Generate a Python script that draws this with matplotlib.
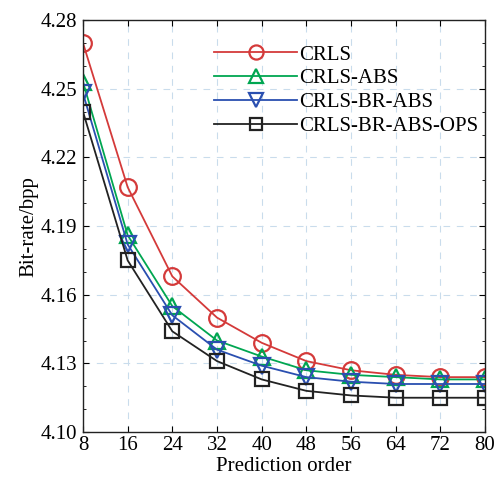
import matplotlib.pyplot as plt
from matplotlib.ticker import MultipleLocator

plt.rcParams["font.family"] = ["Liberation Serif", "DejaVu Serif"]

# data
order = [8, 16, 24, 32, 40, 48, 56, 64, 72, 80]
crls = [4.270, 4.207, 4.168, 4.150, 4.139, 4.131, 4.127, 4.125, 4.124, 4.124]
crls_abs = [4.253, 4.186, 4.155, 4.140, 4.133, 4.127, 4.125, 4.124, 4.123, 4.123]
crls_br_abs = [4.248, 4.182, 4.151, 4.136, 4.129, 4.124, 4.122, 4.121, 4.121, 4.121]
crls_br_abs_ops = [4.240, 4.175, 4.144, 4.131, 4.123, 4.118, 4.116, 4.115, 4.115, 4.115]

series = [
    ("CRLS", crls, "#d43a3a", "o"),
    ("CRLS-ABS", crls_abs, "#00a651", "^"),
    ("CRLS-BR-ABS", crls_br_abs, "#2a4fb0", "v"),
    ("CRLS-BR-ABS-OPS", crls_br_abs_ops, "#222222", "s"),
]

fig = plt.figure(figsize=(4.94, 4.79), dpi=100)
ax = fig.add_axes([0.168, 0.098, 0.814, 0.86])

for name, vals, col, mk in series:
    ms = 10 if mk == "s" else 12
    ax.plot(order, vals, color=col, marker=mk, markersize=ms, fillstyle="none",
            markeredgewidth=1.6, linewidth=1.3, label=name)

ax.set_xlim(8, 80)
ax.set_ylim(4.10, 4.28)
ax.set_xticks(order)
ax.set_yticks([4.10, 4.13, 4.16, 4.19, 4.22, 4.25, 4.28])
ax.set_yticklabels(["4.10", "4.13", "4.16", "4.19", "4.22", "4.25", "4.28"])
ax.yaxis.set_minor_locator(MultipleLocator(0.01))
ax.tick_params(direction="in", which="both", top=True, right=True, labelsize=15)
ax.tick_params(axis="x", pad=3)
ax.tick_params(axis="y", pad=4)
ax.tick_params(which="major", length=4)
ax.tick_params(which="minor", length=2.5)
ax.grid(True, linestyle=(0, (6, 6)), color="#c9dcec", linewidth=0.8)
for s in ax.spines.values():
    s.set_color("#222222")
    s.set_linewidth(1.0)

ax.set_xlabel("Prediction order", fontsize=15, labelpad=1)
ax.set_ylabel("Bit-rate/bpp", fontsize=15, labelpad=2)

ax.legend(loc="upper right", bbox_to_anchor=(1.02, 0.975), frameon=False, fontsize=15,
          handlelength=4.0, handletextpad=0.1, labelspacing=0.2, borderaxespad=0.3,
          markerscale=0.85)

fig.savefig("out.png", dpi=100)
